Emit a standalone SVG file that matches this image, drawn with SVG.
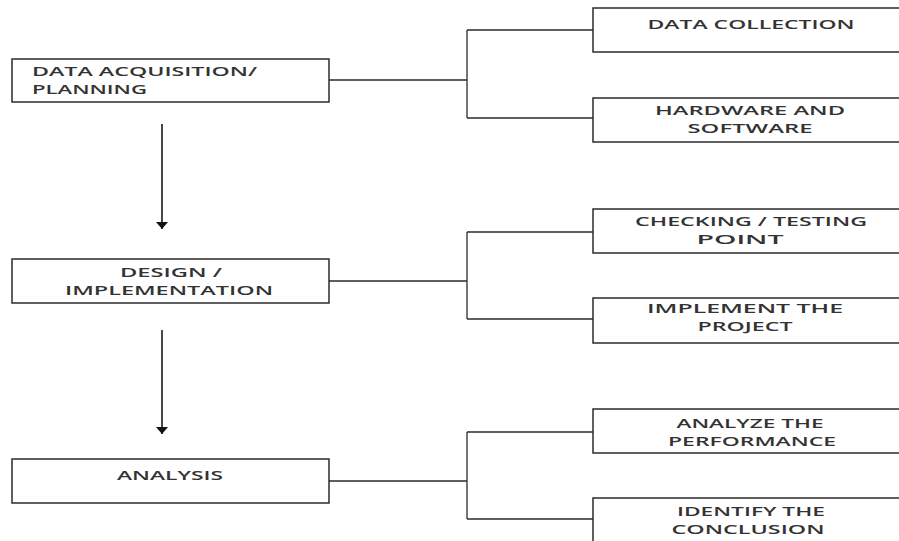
<svg xmlns="http://www.w3.org/2000/svg" width="899" height="541" viewBox="0 0 899 541">
  <style>
    .box { fill: #ffffff; stroke: #2b2b2b; stroke-width: 1.5; }
    .link { fill: none; stroke: #2b2b2b; stroke-width: 1.3; }
    .flow { fill: none; stroke: #1a1a1a; stroke-width: 1.6; }
    .lbl { font-family: "Open Sans", "Liberation Sans", Arial, sans-serif; font-size: 13px; font-weight: 600; fill: #333333; }
    .mid { text-anchor: middle; }
  </style>
  <defs>
    <!-- downward arrowhead; tip sits on the line end -->
    <marker id="head" viewBox="0 0 7 12" refX="7" refY="6" markerWidth="7" markerHeight="12" markerUnits="userSpaceOnUse" orient="auto">
      <path d="M0,0 L7,6 L0,12 Z" fill="#111"/>
    </marker>
  </defs>
  <rect width="899" height="541" fill="#ffffff"/>

  <!-- connectors -->
  <g id="connectors">
    <!-- phase to phase arrows -->
    <line class="flow" x1="162" y1="124" x2="162" y2="229" marker-end="url(#head)"/>
    <line class="flow" x1="162" y1="330" x2="162" y2="434" marker-end="url(#head)"/>
    <!-- bracket: planning -->
    <path class="link" d="M329,80 H467 M467,30 V118 M467,30 H593 M467,118 H593"/>
    <!-- bracket: design -->
    <path class="link" d="M329,281 H467 M467,232 V319 M467,232 H593 M467,319 H593"/>
    <!-- bracket: analysis -->
    <path class="link" d="M329,481 H467 M467,432 V519 M467,432 H593 M467,519 H593"/>
  </g>

  <!-- main phases -->
  <g id="planning">
    <rect class="box" x="12" y="59" width="317" height="43"/>
    <text class="lbl" x="32" y="76" textLength="225" lengthAdjust="spacingAndGlyphs">DATA ACQUISITION/</text>
    <text class="lbl" x="32" y="94" textLength="115" lengthAdjust="spacingAndGlyphs">PLANNING</text>
  </g>
  <g id="design">
    <rect class="box" x="12" y="259" width="317" height="44"/>
    <text class="lbl mid" x="171" y="277" textLength="102" lengthAdjust="spacingAndGlyphs">DESIGN /</text>
    <text class="lbl mid" x="169" y="295" textLength="208" lengthAdjust="spacingAndGlyphs">IMPLEMENTATION</text>
  </g>
  <g id="analysis">
    <rect class="box" x="12" y="459" width="317" height="44"/>
    <text class="lbl mid" x="170" y="480" textLength="106" lengthAdjust="spacingAndGlyphs">ANALYSIS</text>
  </g>

  <!-- sub-tasks -->
  <g id="data-collection">
    <rect class="box" x="593" y="8" width="320" height="44"/>
    <text class="lbl mid" x="751" y="29" textLength="207" lengthAdjust="spacingAndGlyphs">DATA COLLECTION</text>
  </g>
  <g id="hardware-software">
    <rect class="box" x="593" y="98" width="320" height="44"/>
    <text class="lbl mid" x="750" y="115" textLength="190" lengthAdjust="spacingAndGlyphs">HARDWARE AND</text>
    <text class="lbl mid" x="750" y="133" textLength="125" lengthAdjust="spacingAndGlyphs">SOFTWARE</text>
  </g>
  <g id="checking-testing">
    <rect class="box" x="593" y="209" width="320" height="44"/>
    <text class="lbl mid" x="751" y="226" textLength="232" lengthAdjust="spacingAndGlyphs">CHECKING / TESTING</text>
    <text class="lbl mid" x="740" y="244" textLength="87" lengthAdjust="spacingAndGlyphs">POINT</text>
  </g>
  <g id="implement-project">
    <rect class="box" x="593" y="298" width="320" height="45"/>
    <text class="lbl mid" x="745" y="313" textLength="196" lengthAdjust="spacingAndGlyphs">IMPLEMENT THE</text>
    <text class="lbl mid" x="745" y="331" textLength="95" lengthAdjust="spacingAndGlyphs">PROJECT</text>
  </g>
  <g id="analyze-performance">
    <rect class="box" x="593" y="409" width="320" height="44"/>
    <text class="lbl mid" x="750" y="428" textLength="147" lengthAdjust="spacingAndGlyphs">ANALYZE THE</text>
    <text class="lbl mid" x="752" y="446" textLength="168" lengthAdjust="spacingAndGlyphs">PERFORMANCE</text>
  </g>
  <g id="identify-conclusion">
    <rect class="box" x="593" y="498" width="320" height="60"/>
    <text class="lbl mid" x="751" y="516" textLength="148" lengthAdjust="spacingAndGlyphs">IDENTIFY THE</text>
    <text class="lbl mid" x="748" y="534" textLength="153" lengthAdjust="spacingAndGlyphs">CONCLUSION</text>
  </g>
</svg>
